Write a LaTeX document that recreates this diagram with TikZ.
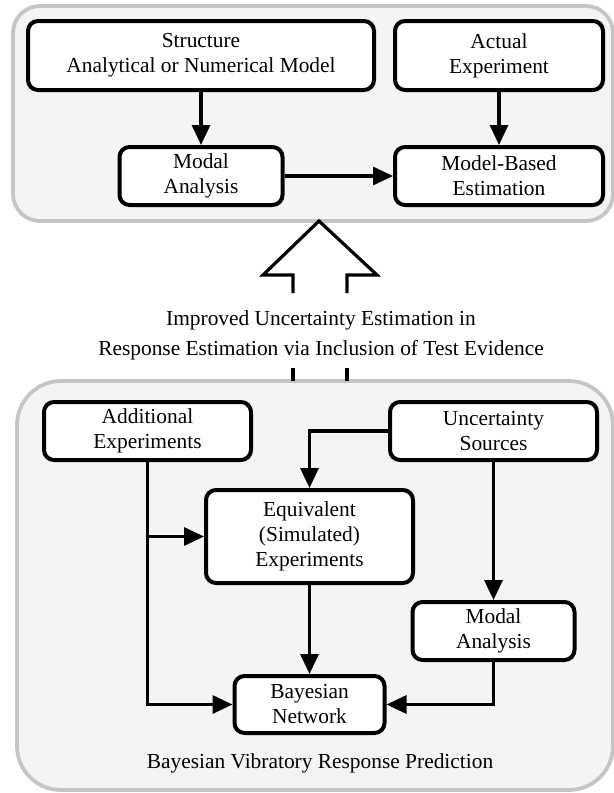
\documentclass[tikz,border=0pt]{standalone}
\usepackage{fontspec}
\setmainfont{Liberation Serif}
\usetikzlibrary{arrows.meta}
\definecolor{panelfill}{HTML}{F3F4F4}
\definecolor{panelline}{HTML}{C4C6C6}
\tikzset{
  panel/.style={draw=panelline, fill=panelfill, line width=1.9pt},
  box/.style={draw, fill=white, line width=2pt, rounded corners=5pt,
    align=center, inner sep=0pt, font=\fontsize{10.7pt}{12.5pt}\selectfont},
  link/.style={line width=1.6pt, -{Triangle[length=10pt,width=9pt]}},
  hollow/.style={line width=1.6pt, line join=miter},
}
\begin{document}
\begin{tikzpicture}[x=0.5pt,y=-0.5pt]
      \useasboundingbox (0,0) rectangle (614,793);
      \draw[panel, rounded corners=13.5pt] (13,6) rectangle (613,221);
      \draw[panel, rounded corners=22pt] (17,381) rectangle (613,790);
      \draw[hollow] (293,293) -- (293,275) -- (263,275) -- (319,221)
        -- (377,275) -- (347,275) -- (347,293);
      \draw[hollow] (293,368) -- (293,381) (347,368) -- (347,381);
      \node[align=center, font=\fontsize{10.7pt}{15pt}\selectfont] (gain) at (321,335)
        {Improved Uncertainty Estimation in\\Response Estimation via Inclusion of Test Evidence};
      \node[box, minimum width=173pt, minimum height=34.5pt] (struct) at (201,55.5)
        {Structure\\Analytical or Numerical Model};
      \node[box, minimum width=104pt, minimum height=34.5pt] (actual) at (499,55.5)
        {Actual\\Experiment};
      \node[box, minimum width=81.5pt, minimum height=29pt] (modalA) at (201,176)
        {Modal\\Analysis};
      \node[box, minimum width=104pt, minimum height=29pt] (mbe) at (499,176)
        {Model-Based\\Estimation};
      \node[box, minimum width=103.5pt, minimum height=29pt] (addexp) at (147.5,431)
        {Additional\\Experiments};
      \node[box, minimum width=103.5pt, minimum height=29pt] (uncsrc) at (493.5,431)
        {Uncertainty\\Sources};
      \node[box, minimum width=103.5pt, minimum height=46.5pt] (equiv) at (309.5,536.5)
        {Equivalent\\(Simulated)\\Experiments};
      \node[box, minimum width=81pt, minimum height=29pt] (modalB) at (493.5,631)
        {Modal\\Analysis};
      \node[box, minimum width=75pt, minimum height=28.5pt] (bayes) at (309.5,704.5)
        {Bayesian\\Network};
      \node[font=\fontsize{10.7pt}{12.5pt}\selectfont] (pred) at (320,763)
        {Bayesian Vibratory Response Prediction};
      \coordinate (split) at (addexp.south |- equiv.west);
      \begin{scope}[link]
        \draw (struct) to (modalA);
        \draw (actual) to (mbe);
        \draw (modalA) to (mbe);
        \draw (uncsrc.west) -| (equiv.north);
        \draw (uncsrc) to (modalB);
        \draw (addexp.south) |- (bayes.west);
        \draw (split) to (equiv);
        \draw (equiv) to (bayes);
        \draw (modalB.south) |- (bayes.east);
      \end{scope}
    \end{tikzpicture}
\end{document}
